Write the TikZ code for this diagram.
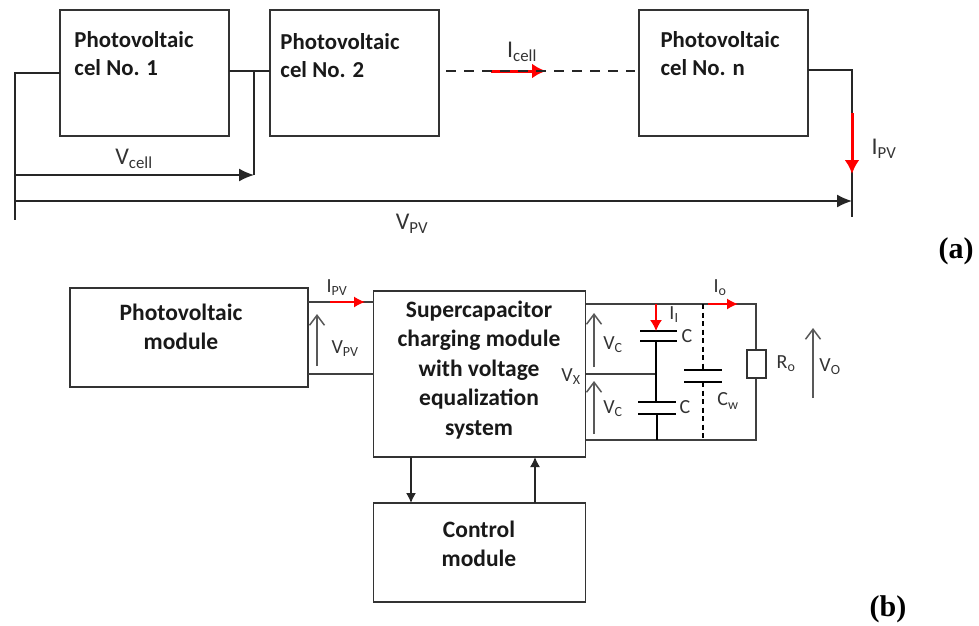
\documentclass[tikz,border=0pt]{standalone}
\usepackage{fontspec}
\setmainfont{Carlito}
\newfontfamily\tagfont{Liberation Serif}
\usepackage{xcolor}
\usetikzlibrary{arrows.meta, positioning, calc}

\begin{document}
\begin{tikzpicture}[
    x=1pt, y=-1pt,
    cellbox/.style={rectangle, draw=black!80, line width=1.6pt, outer sep=0pt, minimum width=169pt, minimum height=126pt},
    block/.style={rectangle, draw=black!80, line width=1.4pt, outer sep=0pt},
    blockname/.style={font=\fontsize{23.5}{29.5}\selectfont\bfseries, align=center, inner sep=0pt, text=black!90},
    cellname/.style={font=\fontsize{22.8}{28}\selectfont\bfseries, align=left, inner sep=0pt, text=black!90},
    sym/.style={font=\fontsize{24}{28}\selectfont, inner sep=0pt, text=black!80},
    smallsym/.style={font=\fontsize{20}{24}\selectfont, inner sep=0pt, text=black!80},
    tagtext/.style={font=\fontsize{30}{34}\selectfont\tagfont\bfseries, inner sep=0pt},
    wire/.style={draw=black!85, line width=2.2pt},
    thinwire/.style={draw=black!75, line width=1.4pt},
    arrow/.style={-{Latex[length=15pt, width=13pt]}, draw=black!85, line width=1.5pt},
    redarrow/.style={-{Latex[length=14pt, width=15pt]}, draw=red, line width=3pt},
    redthin/.style={-{Latex[length=11pt, width=11pt]}, draw=red, line width=1.4pt},
    volt/.style={-{Straight Barb[length=10pt, width=15pt]}, draw=black!65, line width=1.5pt},
    tickarrow/.style={-{Latex[length=10pt, width=10pt]}, draw=black!85, line width=1.4pt},
    plate/.style={draw=black, line width=2.8pt}
]
\useasboundingbox (0,0) rectangle (979,625);

% (a) string of cells
\node[cellbox] (cell1) at (144.5,73) {};
\node[cellbox, right=41pt of cell1] (cell2) {};
\node[cellbox, right=200pt of cell2] (celln) {};
\node[cellname] (cell1name) at (134,54) {Photovoltaic\\cel No. 1};
\node[cellname] (cell2name) at (340,56) {Photovoltaic\\cel No. 2};
\node[cellname] (cellnname) at (720,54) {Photovoltaic\\cel No. n};

\coordinate (railtop) at (15,73);
\coordinate (railend) at (15,220);
\coordinate (vcellstart) at (15,175);
\coordinate (vcellend) at (254,175);
\coordinate (vcelltop) at (254,71);
\coordinate (vpvstart) at (15,201);
\coordinate (vpvend) at (852,201);
\coordinate (outcorner) at (852,70);
\coordinate (outend) at (852,217);
\coordinate (ipvstart) at (852,113);
\coordinate (ipvend) at (852,174);
\coordinate (dashstart) at (446,71);
\coordinate (dashend) at (635,71);
\coordinate (icellstart) at (491,71);
\coordinate (icellend) at (546,71);

\draw[wire] (cell1.west) -- (railtop) -- (railend);
\draw[wire] ([yshift=2pt]cell1.east) -- ([yshift=2pt]cell2.west);
\draw[wire, line width=1.6pt] (vcelltop) -- (vcellend);
\draw[arrow] (vcellstart) -- (vcellend);
\draw[arrow] (vpvstart) -- (vpvend);
\draw[wire] ([yshift=3pt]celln.east) -- (outcorner) -- (outend);
\draw[redarrow] (ipvstart) -- (ipvend);
\draw[redarrow] (icellstart) -- (icellend);
\draw[wire, dash pattern=on 10pt off 8pt] (dashstart) -- (dashend);

\node[sym] (vcell) at (134,159) {V\textsubscript{cell}};
\node[sym] (vpv) at (412,224) {V\textsubscript{PV}};
\node[sym] (icell) at (522,52) {I\textsubscript{cell}};
\node[sym] (ipv) at (884,149) {I\textsubscript{PV}};
\node[tagtext] (taga) at (956,251) {(a)};

% (b) charging circuit
\node[block, minimum width=238pt, minimum height=99pt] (pvmodule) at (189,337.5) {};
\node[block, minimum width=212pt, minimum height=166pt] (charger) at (479.5,374) {};
\node[block, minimum width=212pt, minimum height=99pt, below=46pt of charger] (control) {};
\node[blockname] (pvname) at (181,327) {Photovoltaic\\module};
\node[blockname] (chargername) at (479,370) {Supercapacitor\\charging module\\with voltage\\equalization\\system};
\node[blockname] (controlname) at (479,544) {Control\\module};

\coordinate (pvtop1) at (308,302);
\coordinate (pvtop2) at (374,302);
\coordinate (pvbot1) at (308,374);
\coordinate (pvbot2) at (374,374);
\draw[thinwire] (pvtop1) -- (pvtop2);
\draw[thinwire] (pvbot1) -- (pvbot2);
\coordinate (ipvastart) at (330,302);
\coordinate (ipvaend) at (365,302);
\draw[redthin] (ipvastart) -- (ipvaend);
\coordinate (vpvalow) at (317,366);
\coordinate (vpvahigh) at (317,314);
\draw[volt] (vpvalow) -- (vpvahigh);
\node[smallsym] (ipvlabel) at (337,288) {I\textsubscript{PV}};
\node[smallsym] (vpvlabel) at (345,349) {V\textsubscript{PV}};

\coordinate (down1) at (411,457);
\coordinate (down2) at (411,503);
\coordinate (up1) at (535,503);
\coordinate (up2) at (535,457);
\draw[tickarrow] (down1) -- (down2);
\draw[tickarrow] (up1) -- (up2);

% capacitor bank
\coordinate (ltop) at (586,304);
\coordinate (rtop) at (756,304);
\coordinate (lmid) at (586,374);
\coordinate (cmid) at (656,374);
\coordinate (lbot) at (586,440);
\coordinate (rbot) at (756,440);
\coordinate (capjoin) at (656,304);
\coordinate (c1a) at (656,331);
\coordinate (c1b) at (656,341);
\coordinate (c2a) at (656,402);
\coordinate (c2b) at (657,414);
\coordinate (c2foot) at (657,440);
\draw[thinwire] (ltop) -- (rtop) -- (rbot) -- (lbot);
\draw[thinwire] (lmid) -- (cmid);
\draw[thinwire, draw=black] (c1b) -- (c2a);
\draw[thinwire, draw=black] (c2b) -- (c2foot);
\draw[plate] (640,331) -- (677,331);
\draw[plate] (640,341) -- (677,341);
\draw[plate] (638,402) -- (676,402);
\draw[plate] (638,414) -- (676,414);
\draw[plate] (684,370) -- (722,370);
\draw[plate] (684,382) -- (722,382);
\draw[redthin, -{Latex[length=11pt, width=12pt]}] (capjoin) -- (c1a);

\coordinate (cwtop) at (703,304);
\coordinate (cwa) at (703,370);
\coordinate (cwb) at (703,382);
\coordinate (cwfoot) at (703,438);
\draw[thinwire, draw=black, dash pattern=on 5pt off 3.5pt] (cwtop) -- (cwa);
\draw[thinwire, draw=black, dash pattern=on 5pt off 3.5pt] (cwb) -- (cwfoot);

\node[block, fill=white, minimum width=19pt, minimum height=28pt] (load) at (756.5,364) {};

\coordinate (iostart) at (708,304);
\coordinate (ioend) at (738,304);
\draw[redthin] (iostart) -- (ioend);

\coordinate (vc1low) at (594,367);
\coordinate (vc1high) at (594,313);
\coordinate (vc2low) at (594,434);
\coordinate (vc2high) at (594,381);
\coordinate (vohigh) at (813,328);
\coordinate (volow) at (813,398);
\draw[volt] (vc1low) -- (vc1high);
\draw[volt] (vc2low) -- (vc2high);
\draw[volt] (volow) -- (vohigh);

\node[smallsym] (vc1) at (613,345) {V\textsubscript{C}};
\node[smallsym] (vc2) at (613,409) {V\textsubscript{C}};
\node[smallsym] (vx) at (571,377) {V\textsubscript{X}};
\node[smallsym] (ii) at (674,315) {I\textsubscript{I}};
\node[smallsym] (c1) at (687,336) {C};
\node[smallsym] (c2) at (685,407) {C};
\node[smallsym] (cw) at (728,401) {C\textsubscript{w}};
\node[smallsym] (ro) at (786,364) {R\textsubscript{o}};
\node[smallsym] (vo) at (830,367) {V\textsubscript{O}};
\node[smallsym] (io) at (720,288) {I\textsubscript{o}};
\node[tagtext] (tagb) at (888,609) {(b)};

\end{tikzpicture}
\end{document}
